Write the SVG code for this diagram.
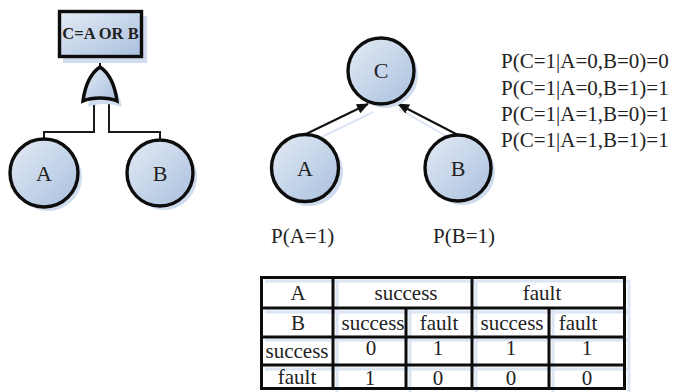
<svg xmlns="http://www.w3.org/2000/svg" width="675" height="392" viewBox="0 0 675 392">
<defs>
<linearGradient id="g" x1="0" y1="0" x2="1" y2="1"><stop offset="0" stop-color="#e4ebf5"/><stop offset="1" stop-color="#a9c0de"/></linearGradient>
<marker id="arr" markerUnits="userSpaceOnUse" markerWidth="12" markerHeight="10" refX="11" refY="5" orient="auto"><path d="M0,0L12,5L0,10Z" fill="#111"/></marker>
</defs>
<style>
text{font-family:"Liberation Serif","Times New Roman",serif;fill:#222;text-anchor:middle}
.n{fill:url(#g);stroke:#0d0d0d;stroke-width:3.4}
.s{fill:#cfdcee;stroke:none}
.l{font-size:22px}
.p{font-size:21px;text-anchor:start}
.t{font-size:21px}
.w{fill:none;stroke:#1a1a1a;stroke-width:2}
.tb{stroke:#0d0d0d;stroke-width:3;fill:none}
.tl{stroke:#dbe5f3;stroke-width:3;fill:none}
</style>
<g id="connectors">
<path class="w" d="M100,57V67"/>
<path class="w" d="M94,101V132H44V140"/>
<path class="w" d="M109,101V132H160V140"/>
<path d="M313,137L370,109M450,137L396,106" fill="none" stroke="#dbe5f3" stroke-width="2" transform="translate(3,3)"/>
<path d="M306,134L368,104" fill="none" stroke="#111" stroke-width="2" marker-end="url(#arr)"/>
<path d="M458,135L398,104" fill="none" stroke="#111" stroke-width="2" marker-end="url(#arr)"/>
</g>
<g id="top-event">
<rect class="s" x="63" y="16" width="84" height="47"/>
<rect class="n" x="59.500" y="11.500" width="82" height="45"/>
<text x="100.500" y="39" font-size="16.500" font-weight="700">C=A OR B</text>
</g>
<g id="or-gate">
<path class="s" d="M100,72C112,78 119,92 122,107C112,103 95,103 88,107C90,92 94,78 100,72Z"/>
<path class="n" d="M100,67C109,73 115,86 117,101C108,97 92,97 83,101C85,86 91,73 100,67Z"/>
</g>
<g id="ft-a"><circle class="s" cx="48" cy="177" r="34"/><circle class="n" cx="44" cy="173" r="34"/><text class="l" x="44" y="181">A</text></g>
<g id="ft-b"><circle class="s" cx="164" cy="177" r="33"/><circle class="n" cx="160" cy="173" r="33"/><text class="l" x="160" y="181">B</text></g>
<g id="bn-c"><circle class="s" cx="385" cy="75" r="33"/><circle class="n" cx="381" cy="71" r="33"/><text class="l" x="381" y="78">C</text></g>
<g id="bn-a"><circle class="s" cx="309" cy="172" r="34"/><circle class="n" cx="305" cy="168" r="33.500"/><text class="l" x="305" y="176">A</text></g>
<g id="bn-b"><circle class="s" cx="462" cy="172" r="33"/><circle class="n" cx="458" cy="168" r="33"/><text class="l" x="458" y="176">B</text></g>
<g id="cpt-text">
<text class="p" x="501" y="68">P(C=1|A=0,B=0)=0</text>
<text class="p" x="501" y="95">P(C=1|A=0,B=1)=1</text>
<text class="p" x="501" y="121">P(C=1|A=1,B=0)=1</text>
<text class="p" x="501" y="147">P(C=1|A=1,B=1)=1</text>
</g>
<g id="priors">
<text class="p" x="271" y="243">P(A=1)</text>
<text class="p" x="433" y="243">P(B=1)</text>
</g>
<g id="table">
<path class="tl" d="M265,281H629V392M337,281V392M410,309V392M476,281V392M553,309V392M265,312H629M265,340H629M265,369H629"/>
<path class="tb" d="M261.500,277.500H624.500V388.500H261.500ZM333,277V389M472,277V389M406,308V389M549,308V389M261,308H625M261,337H625M261,365H625"/>
<text class="t" x="298" y="300">A</text>
<text class="t" x="406" y="300">success</text>
<text class="t" x="542" y="300">fault</text>
<text class="t" x="298" y="330">B</text>
<text class="t" x="373" y="330">success</text>
<text class="t" x="439" y="330">fault</text>
<text class="t" x="512" y="330">success</text>
<text class="t" x="578" y="330">fault</text>
<text class="t" x="297" y="358">success</text>
<text class="t" x="371" y="355">0</text>
<text class="t" x="438" y="355">1</text>
<text class="t" x="511" y="355">1</text>
<text class="t" x="587" y="355">1</text>
<text class="t" x="297" y="384">fault</text>
<text class="t" x="370" y="385">1</text>
<text class="t" x="438" y="385">0</text>
<text class="t" x="511" y="385">0</text>
<text class="t" x="587" y="385">0</text>
</g>
</svg>
